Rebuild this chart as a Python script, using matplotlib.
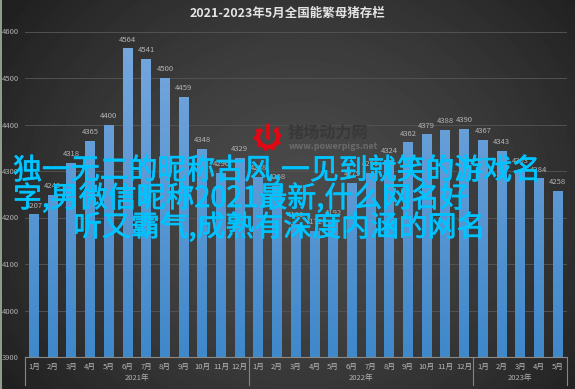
import numpy as np
import matplotlib
matplotlib.use("Agg")
import matplotlib.pyplot as plt
import matplotlib.patheffects as pe
from matplotlib.patches import Arc, Rectangle

plt.rcParams['font.family'] = ['Noto Sans CJK SC', 'DejaVu Sans']

months = ["1月", "2月", "3月", "4月", "5月", "6月", "7月", "8月", "9月", "10月", "11月", "12月",
          "1月", "2月", "3月", "4月", "5月", "6月", "7月", "8月", "9月", "10月", "11月", "12月",
          "1月", "2月", "3月", "4月", "5月"]
stock = [4207, 4249, 4318, 4365, 4400, 4564, 4541, 4500, 4459, 4348, 4296, 4329,
         4288, 4268, 4186, 4172, 4192, 4275, 4296, 4324, 4362, 4379, 4388, 4390,
         4367, 4343, 4303, 4284, 4258]
years = ["2021年", "2022年", "2023年"]
year_counts = [12, 12, 5]
yticks = [3900, 4000, 4100, 4200, 4300, 4400, 4500, 4600]

W, H = 575, 389
fig = plt.figure(figsize=(W / 100, H / 100), dpi=100)

# dark background, lighter in the middle
bg = fig.add_axes([0, 0, 1, 1], zorder=0)
yy, xx = np.mgrid[0:H, 0:W]
r = np.sqrt(((xx - 300) / 340.0) ** 2 + ((yy - 200) / 300.0) ** 2)
shade = np.clip(0.29 - 0.15 * r ** 1.5, 0.13, 0.29)
bg.imshow(shade, cmap="gray", vmin=0, vmax=1, aspect="auto", extent=[0, W, H, 0])
bg.add_patch(Rectangle((0, 0), 1.5, H, color="#8f9c8c", lw=0))
bg.set_xlim(0, W)
bg.set_ylim(H, 0)
bg.axis("off")

ax = fig.add_axes([24.6 / W, 1 - 357 / H, (567 - 24.6) / W, (357 - 31.5) / H], zorder=1)
ax.patch.set_alpha(0)
x = np.arange(len(stock))
bars = ax.bar(x, stock, width=0.53, color="#5b9bd5", edgecolor="none", zorder=2)

# bars fade from pale blue at top to stronger blue at the bottom
grad = np.linspace(0, 1, 256).reshape(-1, 1)
cmap = matplotlib.colors.LinearSegmentedColormap.from_list("b", ["#78a8de", "#3f88ca"])
for b in bars:
    im = ax.imshow(grad, cmap=cmap, aspect="auto", zorder=2.1,
                   extent=[b.get_x(), b.get_x() + b.get_width(), 3900, 4600])
    im.set_clip_path(b)

for xi, v in zip(x, stock):
    ax.text(xi, v + 10, str(v), ha="center", va="bottom", fontsize=5.5, color="#b4b4b4", zorder=3)

ax.set_xlim(-0.5, len(stock) - 0.5)
ax.set_ylim(3900, 4600)
ax.set_yticks(yticks)
ax.set_xticks(x)
ax.set_xticklabels(months)
ax.tick_params(axis="y", length=0, pad=4, labelsize=5.5, labelcolor="#b0b0b0")
ax.tick_params(axis="x", length=0, pad=4, labelsize=5.5, labelcolor="#b8b8b8")
ax.grid(axis="y", color="#525252", lw=0.7, zorder=1)
ax.set_axisbelow(True)
for s in ["top", "left", "right"]:
    ax.spines[s].set_visible(False)
ax.spines["bottom"].set_color("#8a8a8a")
ax.spines["bottom"].set_linewidth(0.8)

# overlay in pixel coordinates for title, year levels, watermark and caption
top = fig.add_axes([0, 0, 1, 1], zorder=5)
top.set_xlim(0, W)
top.set_ylim(H, 0)
top.axis("off")

top.text(287, 13, "2021-2023年5月全国能繁母猪存栏", ha="center", va="center",
         fontsize=9, fontweight="bold", color="#e4e4e4")

px0 = 24.6
step = (567 - 24.6) / len(stock)
start = 0
top.plot([px0, px0], [357, 385], color="#858585", lw=0.8)
for name, n in zip(years, year_counts):
    a = px0 + start * step
    e = px0 + (start + n) * step
    top.plot([e, e], [357, 385], color="#858585", lw=0.8)
    top.text((a + e) / 2, 378, name, ha="center", va="center", fontsize=5.5, color="#b0b0b0")
    start += n

# watermark
top.add_patch(Arc((268, 137), 20, 20, theta1=-50, theta2=230, color="#e30613", lw=3.2))
top.add_patch(Arc((268, 137), 25, 25, theta1=-50, theta2=230, color="#e30613", lw=2.2, ls=(0, (1, 1.6))))
top.plot([268, 268], [125, 138], color="#e30613", lw=2.6, solid_capstyle="round")
top.text(288, 133, "猪场动力网", ha="left", va="center", fontsize=11.6, fontweight="bold", color="#383838")
top.text(289, 146, "www.powerpigs.net", ha="left", va="center", fontsize=6.4, color="#6b6b6b",
         fontweight="bold")

# big caption over the chart
caption = "#00c3ff"
thick = [pe.withStroke(linewidth=0.5, foreground=caption)]
top.text(13, 171, "独一无二的昵称古风,一见到就笑的游戏名", ha="left", va="center", fontsize=20.8,
         color=caption, path_effects=thick)
top.text(13, 199, "字,男微信昵称2021最新,什么网名好", ha="left", va="center", fontsize=20.8,
         color=caption, path_effects=thick)
top.text(73, 228, "听又霸气,成熟有深度内涵的网名", ha="left", va="center", fontsize=20.8,
         color=caption, path_effects=thick)

fig.savefig("out.png", dpi=100)
